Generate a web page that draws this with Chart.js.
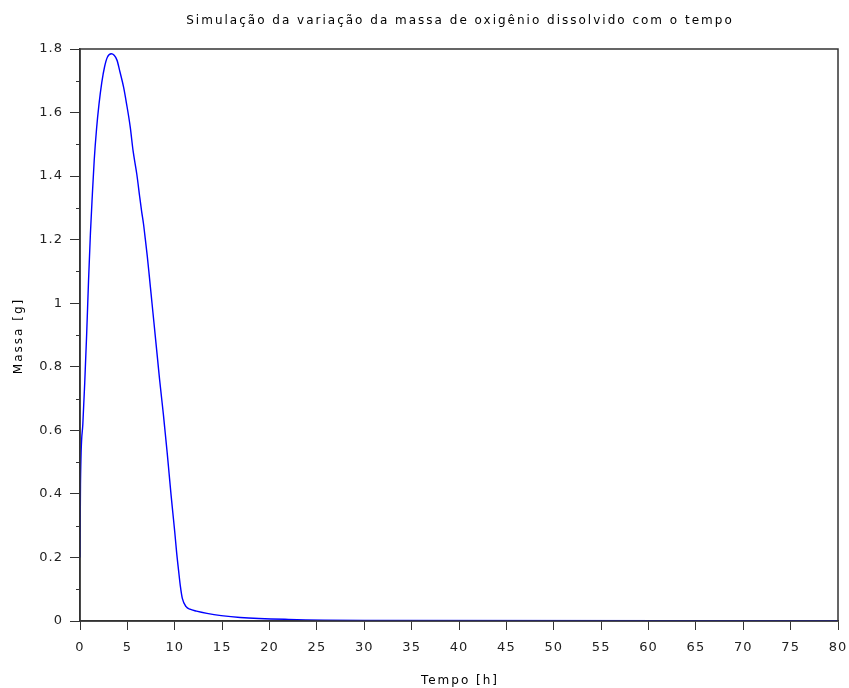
<!DOCTYPE html>
<html>
<head>
<meta charset="utf-8">
<script src="https://cdn.jsdelivr.net/npm/chart.js@4"></script>
<style>
  body { margin: 0; background: #fff; }
</style>
</head>
<body>
<canvas id="chart" width="849" height="688"></canvas>
<script>
// tempo [h] e massa [g]
const tempo = [0, 0.05, 0.3, 0.5, 0.7, 0.9, 1.1, 1.3, 1.5, 1.75, 2.0, 2.3, 2.6, 2.9, 3.3,
  3.9, 4.2, 4.6, 4.9, 5.3, 5.6, 6.0, 6.3, 6.5, 6.7, 6.9, 7.1, 7.3, 7.5, 7.6, 7.8, 8.0, 8.2, 8.4, 8.6, 8.8,
  9.0, 9.2, 9.4, 9.6, 9.8, 10.0, 10.2, 10.4, 10.6, 10.8, 11.2, 11.6, 12.3, 13.4, 14.9, 16.9, 22, 30, 80];
const massa = [0.2, 0.43, 0.62, 0.75, 0.9, 1.07, 1.22, 1.34, 1.45, 1.55, 1.625, 1.695, 1.745, 1.775, 1.785,
  1.765, 1.73, 1.68, 1.63, 1.555, 1.48, 1.405, 1.335, 1.29, 1.25, 1.2, 1.148, 1.09, 1.03, 1.0, 0.94, 0.88, 0.82, 0.76, 0.705, 0.65,
  0.59, 0.53, 0.465, 0.4, 0.34, 0.28, 0.215, 0.16, 0.108, 0.071, 0.045, 0.037, 0.031, 0.024, 0.017, 0.011, 0.005, 0.002, 0.001];

const xTicks = [0, 80, 5];      // min, max, passo
const yTicks = [0, 1.8, 0.2];

const titulo = 'Simulação da variação da massa de oxigênio dissolvido com o tempo';
const xTitulo = 'Tempo [h]';
const yTitulo = 'Massa [g]';

const pontos = tempo.map((t, i) => ({ x: t, y: massa[i] }));

// moldura, ticks menores e textos espaçados (como no Scilab)
const extras = {
  id: 'extras',
  beforeDraw(chart) {
    chart.ctx.letterSpacing = '1px';
  },
  afterDraw(chart) {
    const ctx = chart.ctx;
    const a = chart.chartArea;
    const ys = chart.scales.y;
    ctx.save();
    ctx.strokeStyle = '#333';
    ctx.lineWidth = 1.5;
    ctx.strokeRect(a.left, a.top, a.right - a.left, a.bottom - a.top);

    // ticks menores do eixo y
    ctx.lineWidth = 1;
    for (let v = yTicks[0] + yTicks[2] / 2; v < yTicks[1]; v += yTicks[2]) {
      const py = Math.round(ys.getPixelForValue(v)) + 0.5;
      ctx.beginPath();
      ctx.moveTo(a.left - 4, py);
      ctx.lineTo(a.left, py);
      ctx.stroke();
    }

    ctx.fillStyle = '#000';
    ctx.font = '12px "DejaVu Sans"';
    ctx.letterSpacing = '2px';
    ctx.textAlign = 'center';
    ctx.textBaseline = 'middle';
    const cx = (a.left + a.right) / 2 + 1;
    ctx.fillText(titulo, cx, 21);
    ctx.fillText(xTitulo, cx, 681);
    ctx.translate(19, (a.top + a.bottom) / 2 + 1);
    ctx.rotate(-Math.PI / 2);
    ctx.fillText(yTitulo, 0, 0);
    ctx.restore();
    ctx.letterSpacing = '0px';
  }
};

const fonteTicks = { family: 'DejaVu Sans', size: 13 };

new Chart(document.getElementById('chart'), {
  type: 'line',
  data: {
    datasets: [{
      data: pontos,
      borderColor: '#0000ff',
      borderWidth: 1.4,
      pointRadius: 0,
      cubicInterpolationMode: 'monotone',
      fill: false
    }]
  },
  options: {
    responsive: false,
    animation: false,
    devicePixelRatio: 1,
    layout: { padding: { top: 49, right: 11, left: 0, bottom: 0 } },
    plugins: { legend: { display: false }, tooltip: { enabled: false } },
    scales: {
      x: {
        type: 'linear',
        min: xTicks[0],
        max: xTicks[1],
        afterFit(s) { s.height = 67; s.paddingLeft = 0; s.paddingRight = 0; },
        border: { color: '#333', width: 1.5 },
        grid: { drawOnChartArea: false, tickLength: 9, color: '#333', tickWidth: 1 },
        ticks: { stepSize: xTicks[2], color: '#222', font: fonteTicks, padding: 10, maxRotation: 0 }
      },
      y: {
        min: yTicks[0],
        max: yTicks[1],
        afterFit(s) { s.width = 80; s.paddingTop = 0; s.paddingBottom = 0; },
        border: { color: '#333', width: 1.5 },
        grid: { drawOnChartArea: false, tickLength: 10, color: '#333', tickWidth: 1 },
        ticks: {
          stepSize: yTicks[2], color: '#222', font: fonteTicks, padding: 7,
          callback: v => String(Number(v.toFixed(1)))
        }
      }
    }
  },
  plugins: [extras]
});
</script>
</body>
</html>
